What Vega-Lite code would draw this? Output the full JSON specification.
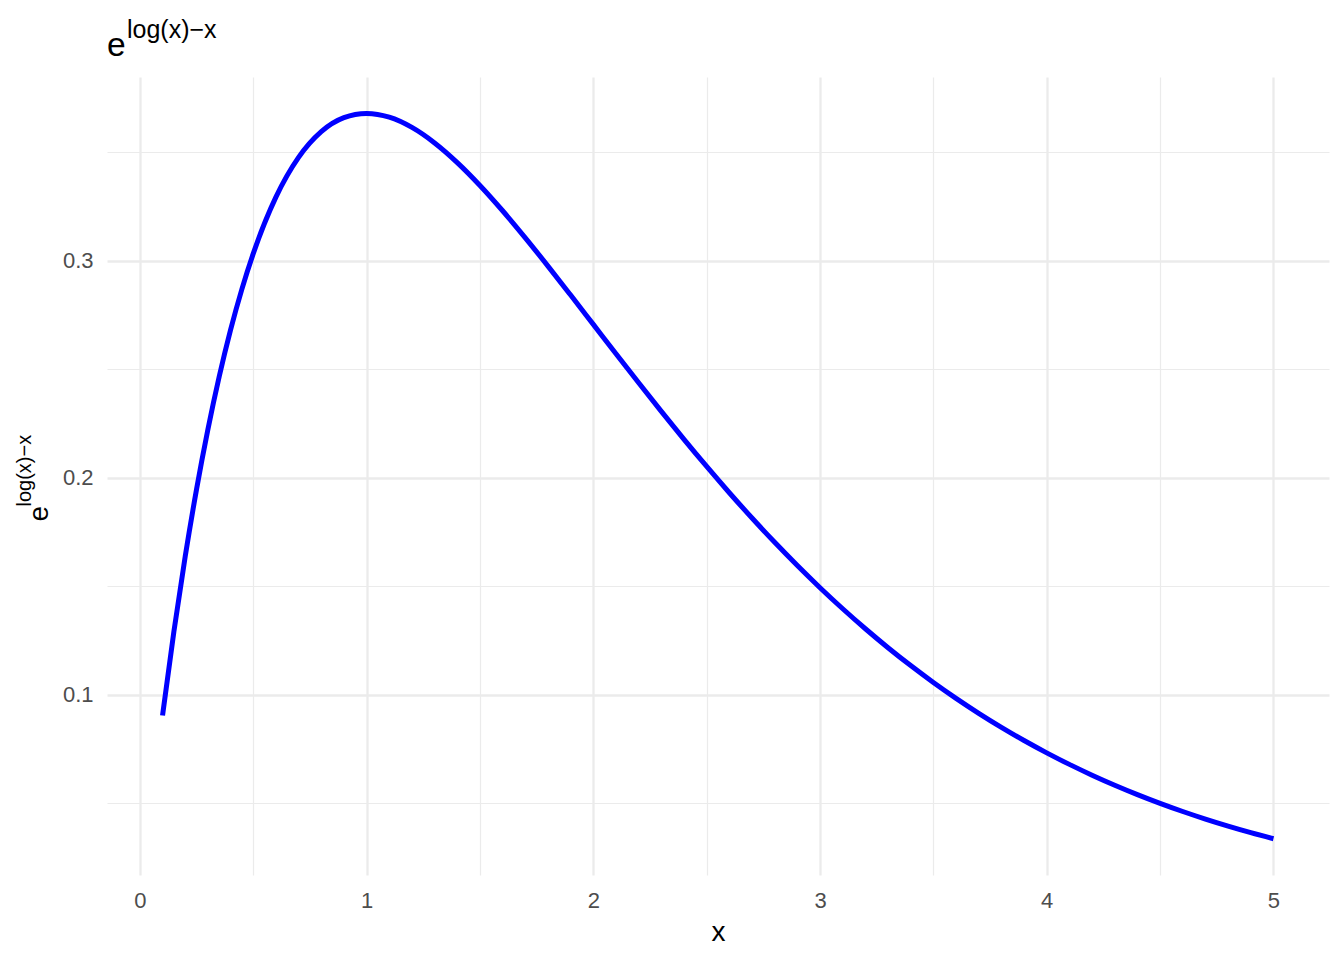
{
  "$schema": "https://vega.github.io/schema/vega-lite/v6.json",
  "width": 1222,
  "height": 798,
  "autosize": {"type": "none"},
  "padding": {"left": 107, "top": 77, "right": 15, "bottom": 85},
  "background": "white",
  "config": {
    "view": {"stroke": null},
    "font": "Liberation Sans",
    "axis": {"domain": false, "ticks": false, "tickSize": 0, "gridColor": "#EBEBEB", "labelFont": "Liberation Sans", "titleFont": "Liberation Sans", "titleFontWeight": "normal", "titleColor": "#000000", "labelColor": "#4D4D4D", "labelFontSize": 22}
  },
  "data": {
    "values": [
      {"x": 0.1, "y": 0.090484}, {"x": 0.15, "y": 0.129106}, {"x": 0.2, "y": 0.163746}, {"x": 0.25, "y": 0.1947}, {"x": 0.3, "y": 0.222245}, {"x": 0.35, "y": 0.246641}, {"x": 0.4, "y": 0.268128}, {"x": 0.45, "y": 0.286933}, {"x": 0.5, "y": 0.303265},
      {"x": 0.6, "y": 0.329287}, {"x": 0.7, "y": 0.34761}, {"x": 0.8, "y": 0.359463}, {"x": 0.9, "y": 0.365913}, {"x": 1.0, "y": 0.367879},
      {"x": 1.1, "y": 0.366158}, {"x": 1.2, "y": 0.361433}, {"x": 1.3, "y": 0.354291}, {"x": 1.4, "y": 0.345236}, {"x": 1.5, "y": 0.334695},
      {"x": 1.6, "y": 0.323034}, {"x": 1.7, "y": 0.310562}, {"x": 1.8, "y": 0.297538}, {"x": 1.9, "y": 0.28418}, {"x": 2.0, "y": 0.270671},
      {"x": 2.1, "y": 0.257158}, {"x": 2.2, "y": 0.243767}, {"x": 2.3, "y": 0.230595}, {"x": 2.4, "y": 0.217723}, {"x": 2.5, "y": 0.205212},
      {"x": 2.6, "y": 0.193111}, {"x": 2.7, "y": 0.181455}, {"x": 2.8, "y": 0.170268}, {"x": 2.9, "y": 0.159567}, {"x": 3.0, "y": 0.149361},
      {"x": 3.1, "y": 0.139652}, {"x": 3.2, "y": 0.130439}, {"x": 3.3, "y": 0.121714}, {"x": 3.4, "y": 0.113468}, {"x": 3.5, "y": 0.105691},
      {"x": 3.6, "y": 0.098365}, {"x": 3.7, "y": 0.091477}, {"x": 3.8, "y": 0.085009}, {"x": 3.9, "y": 0.078943}, {"x": 4.0, "y": 0.073263},
      {"x": 4.1, "y": 0.067948}, {"x": 4.2, "y": 0.062981}, {"x": 4.3, "y": 0.058345}, {"x": 4.4, "y": 0.05402}, {"x": 4.5, "y": 0.04999},
      {"x": 4.6, "y": 0.046238}, {"x": 4.7, "y": 0.042748}, {"x": 4.8, "y": 0.039503}, {"x": 4.9, "y": 0.036489}, {"x": 5.0, "y": 0.03369}
    ]
  },
  "resolve": {"axis": {"x": "independent", "y": "independent"}},
  "layer": [
    {
      "mark": {"type": "line", "opacity": 0},
      "encoding": {
        "x": {"field": "x", "type": "quantitative", "scale": {"domain": [-0.145, 5.245], "nice": false, "zero": false},
          "axis": {"orient": "bottom", "values": [0.5, 1.5, 2.5, 3.5, 4.5], "grid": true, "gridWidth": 1.2, "labels": false,
            "title": "e", "titleFontSize": 33.6, "titleAlign": "left", "titleBaseline": "alphabetic", "titleAngle": 0, "titleX": -0.5, "titleY": -820}},
        "y": {"field": "y", "type": "quantitative", "scale": {"domain": [0.01698, 0.38466], "nice": false, "zero": false},
          "axis": {"orient": "left", "values": [0.05, 0.15, 0.25, 0.35], "grid": true, "gridWidth": 1.2, "labels": false,
            "title": "log(x)−x", "titleFontSize": 20, "titleAlign": "left", "titleBaseline": "alphabetic", "titleAngle": -90, "titleX": -77, "titleY": 429}}
      }
    },
    {
      "mark": {"type": "line", "opacity": 0},
      "encoding": {
        "x": {"field": "x", "type": "quantitative",
          "axis": {"orient": "top", "grid": false, "labels": false,
            "title": "log(x)−x", "titleFontSize": 25, "titleAlign": "left", "titleBaseline": "alphabetic", "titleAngle": 0, "titleX": 19.5, "titleY": -40}},
        "y": {"field": "y", "type": "quantitative", "axis": null}
      }
    },
    {
      "mark": {"type": "line", "color": "#0000FF", "strokeWidth": 5, "interpolate": "monotone", "strokeCap": "butt"},
      "encoding": {
        "x": {"field": "x", "type": "quantitative",
          "axis": {"orient": "bottom", "values": [0, 1, 2, 3, 4, 5], "grid": true, "gridWidth": 2.3, "labelPadding": 15, "labelBaseline": "top", "format": "d",
            "title": "x", "titleFontSize": 28, "titleAlign": "center", "titleBaseline": "alphabetic", "titleX": 611, "titleY": 65}},
        "y": {"field": "y", "type": "quantitative",
          "axis": {"orient": "left", "values": [0.1, 0.2, 0.3], "grid": true, "gridWidth": 2.3, "labelPadding": 14, "format": ".1f",
            "title": "e", "titleFontSize": 28, "titleAlign": "left", "titleBaseline": "alphabetic", "titleAngle": -90, "titleX": -60, "titleY": 444}}
      }
    }
  ]
}
